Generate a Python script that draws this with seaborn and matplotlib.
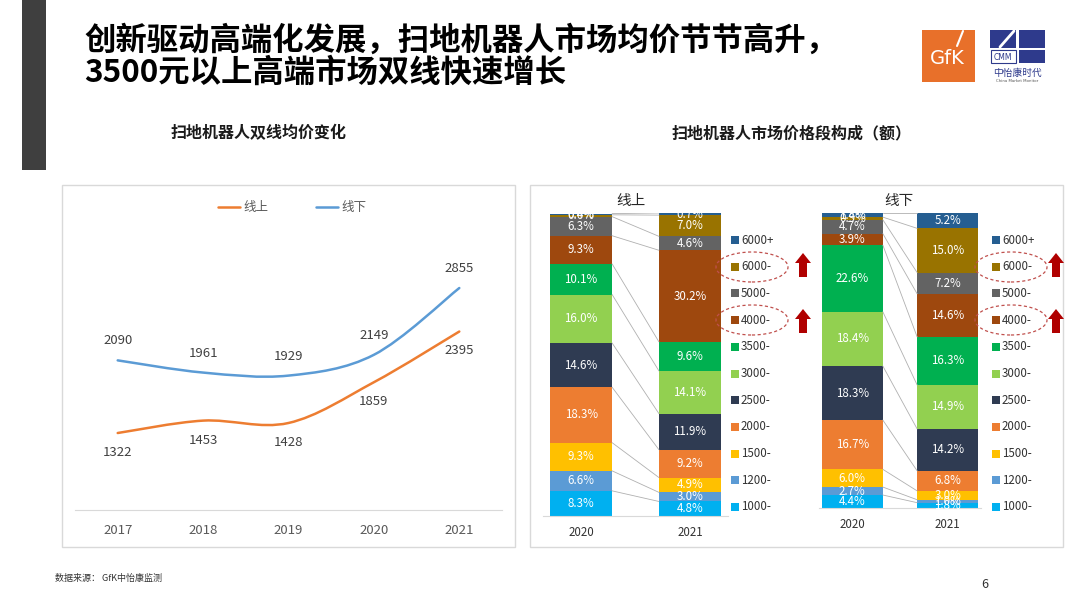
import numpy as np
import pandas as pd
import matplotlib
matplotlib.use("Agg")
import matplotlib.pyplot as plt
import seaborn as sns
from matplotlib.patches import Rectangle, Ellipse, PathPatch, Polygon
from matplotlib.path import Path
from matplotlib.lines import Line2D

# ---------------- data ----------------
years = [2017, 2018, 2019, 2020, 2021]
online_price = [1322, 1453, 1428, 1859, 2395]
offline_price = [2090, 1961, 1929, 2149, 2855]

segments = ['1000-', '1200-', '1500-', '2000-', '2500-', '3000-', '3500-',
            '4000-', '5000-', '6000-', '6000+']
bar_years = ['2020', '2021']
online_2020 = [8.3, 6.6, 9.3, 18.3, 14.6, 16.0, 10.1, 9.3, 6.3, 0.6, 0.4]
online_2021 = [4.8, 3.0, 4.9, 9.2, 11.9, 14.1, 9.6, 30.2, 4.6, 7.0, 0.7]
offline_2020 = [4.4, 2.7, 6.0, 16.7, 18.3, 18.4, 22.6, 3.9, 4.7, 0.9, 1.4]
offline_2021 = [1.8, 1.0, 3.0, 6.8, 14.2, 14.9, 16.3, 14.6, 7.2, 15.0, 5.2]

seg_colors = ['#00B0F0', '#5B9BD5', '#FFC000', '#ED7D31', '#2F3B52', '#92D050',
              '#00B050', '#9E480E', '#636363', '#997300', '#255E91']

# ---------------- setup ----------------
sns.set_theme(style="white")
plt.rcParams['font.family'] = ['Noto Sans CJK SC', 'DejaVu Sans']
plt.rcParams['axes.unicode_minus'] = False

W, H = 1080, 608
fig = plt.figure(figsize=(W / 100, H / 100), dpi=100)
fig.patch.set_facecolor('white')


def fbox(x0, y0, x1, y1):
    return [x0 / W, 1 - y1 / H, (x1 - x0) / W, (y1 - y0) / H]


def ft(x, y, s, **kw):
    return fig.text(x / W, 1 - y / H, s, **kw)


def frect(x0, y0, x1, y1, **kw):
    r = Rectangle((x0 / W, 1 - y1 / H), (x1 - x0) / W, (y1 - y0) / H,
                  transform=fig.transFigure, **kw)
    fig.add_artist(r)
    return r


# ---------------- header ----------------
frect(22, 0, 46, 170, color='#3F3F3F', lw=0)
ft(84, 41, '创新驱动高端化发展，扫地机器人市场均价节节高升，', fontsize=22.6,
   fontweight='bold', va='center', ha='left', color='black')
ft(84, 73, '3500元以上高端市场双线快速增长', fontsize=22.6,
   fontweight='bold', va='center', ha='left', color='black')

# GfK logo
frect(922, 30, 975, 82, color='#E8702A', lw=0)
ft(947, 59, 'GfK', fontsize=14, color='white', ha='center', va='center',
   family=['DejaVu Sans'])
fig.add_artist(Line2D([963 / W, 957 / W], [1 - 31 / H, 1 - 46 / H],
                      transform=fig.transFigure, color='white', lw=1.5))
# CMM logo
navy = '#2E3A8C'
frect(990, 30, 1016, 48, color=navy, lw=0)
frect(1019, 30, 1045, 48, color=navy, lw=0)
frect(1019, 50, 1045, 63, color=navy, lw=0)
frect(991, 50, 1016, 63, fill=False, ec=navy, lw=0.8)
fig.add_artist(Line2D([1000 / W, 1014 / W], [1 - 47 / H, 1 - 31 / H],
                      transform=fig.transFigure, color='white', lw=2))
ft(1003, 57, 'CMM', fontsize=5.5, color=navy, ha='center', va='center',
   family=['DejaVu Sans'])
ft(1017, 73, '中怡康时代', fontsize=7, color=navy, ha='center', va='center')
ft(1017, 81, 'China Market Monitor', fontsize=2.8, color='#555555',
   ha='center', va='center', family=['DejaVu Sans'])

# subtitles
ft(259, 133, '扫地机器人双线均价变化', fontsize=11.5, fontweight='bold',
   ha='center', va='center', color='#1a1a1a')
ft(792, 133, '扫地机器人市场价格段构成（额）', fontsize=11.5, fontweight='bold',
   ha='center', va='center', color='#1a1a1a')

# panel borders
frect(62, 185, 515, 547, fill=False, ec='#D9D9D9', lw=1)
frect(530, 185, 1063, 547, fill=False, ec='#D9D9D9', lw=1)

# footer
ft(55, 578, '数据来源： GfK中怡康监测', fontsize=6.5, color='#333333',
   ha='left', va='center')
ft(985, 584, '6', fontsize=9, color='#333333', ha='center', va='center')

# ---------------- line chart ----------------
axl = fig.add_axes(fbox(75, 215, 502, 510))
axl.set_xlim(2016.5, 2021.5)
axl.set_ylim(508, 3627)
for s in ['top', 'right', 'left']:
    axl.spines[s].set_visible(False)
axl.spines['bottom'].set_color('#D9D9D9')
axl.spines['bottom'].set_linewidth(0.8)
axl.set_yticks([])
axl.set_xticks(years)
axl.set_xticklabels([str(y) for y in years], fontsize=9.5, color='#595959')
axl.tick_params(axis='x', length=0, pad=10)
axl.set_facecolor('none')


def smooth_path(xs, ys):
    pts = list(zip(xs, ys))
    n = len(pts)
    verts = [pts[0]]
    codes = [Path.MOVETO]
    for i in range(n - 1):
        p0 = pts[i - 1] if i > 0 else pts[i]
        p1 = pts[i]
        p2 = pts[i + 1]
        p3 = pts[i + 2] if i + 2 < n else pts[i + 1]
        c1 = (p1[0] + (p2[0] - p0[0]) / 6, p1[1] + (p2[1] - p0[1]) / 6)
        c2 = (p2[0] - (p3[0] - p1[0]) / 6, p2[1] - (p3[1] - p1[1]) / 6)
        verts += [c1, c2, p2]
        codes += [Path.CURVE4] * 3
    return Path(verts, codes)


c_on, c_off = '#ED7D31', '#5B9BD5'
axl.add_patch(PathPatch(smooth_path(years, online_price), fill=False,
                        ec=c_on, lw=1.8, capstyle='round'))
axl.add_patch(PathPatch(smooth_path(years, offline_price), fill=False,
                        ec=c_off, lw=1.8, capstyle='round'))
for x, v in zip(years, online_price):
    axl.annotate(f'{v}', (x, v), xytext=(0, -14), textcoords='offset points',
                 ha='center', va='center', fontsize=9.5, color='#404040')
for x, v in zip(years, offline_price):
    axl.annotate(f'{v}', (x, v), xytext=(0, 14), textcoords='offset points',
                 ha='center', va='center', fontsize=9.5, color='#404040')

# legend of line chart
fig.add_artist(Line2D([218 / W, 240 / W], [1 - 207 / H] * 2,
                      transform=fig.transFigure, color=c_on, lw=1.8))
ft(243, 207, '线上', fontsize=9, color='#595959', ha='left', va='center')
fig.add_artist(Line2D([316 / W, 338 / W], [1 - 207 / H] * 2,
                      transform=fig.transFigure, color=c_off, lw=1.8))
ft(341, 207, '线下', fontsize=9, color='#595959', ha='left', va='center')


# ---------------- stacked bars ----------------
def draw_stack(ax, v2020, v2021, width):
    cum = np.zeros(2)
    for seg, c, a, b in zip(segments, seg_colors, v2020, v2021):
        vals = np.array([a, b], dtype=float)
        df = pd.DataFrame({'year': bar_years, 'share': vals})
        sns.barplot(data=df, x='year', y='share', bottom=cum, color=c,
                    width=width, saturation=1, errorbar=None, ax=ax,
                    linewidth=0)
        for i in range(2):
            ax.text(i, cum[i] + vals[i] / 2, f'{vals[i]:.1f}%', ha='center',
                    va='center', color='white', fontsize=8.3)
        cum = cum + vals
        ax.plot([width / 2, 1 - width / 2], cum, color='#B0B0B0', lw=0.6)
    ax.set_xlim(-0.35, 1.35)
    ax.set_ylim(0, 100)
    for s in ['top', 'right', 'left']:
        ax.spines[s].set_visible(False)
    ax.spines['bottom'].set_color('#D9D9D9')
    ax.spines['bottom'].set_linewidth(0.8)
    ax.set_yticks([])
    ax.set_xlabel('')
    ax.set_ylabel('')
    ax.tick_params(axis='x', length=0, pad=7, labelsize=8.3, labelcolor='#333333')
    ax.set_facecolor('none')


ax_on = fig.add_axes(fbox(543, 213, 728, 516))
draw_stack(ax_on, online_2020, online_2021, 0.57)
ax_off = fig.add_axes(fbox(819, 213, 981, 508))
draw_stack(ax_off, offline_2020, offline_2021, 0.64)

ft(631, 201, '线上', fontsize=10.5, color='#262626', ha='center', va='center')
ft(899, 201, '线下', fontsize=10.5, color='#262626', ha='center', va='center')

# legends of bar charts
leg_y = np.linspace(240, 507, len(segments))[::-1]  # 1000- at bottom
for lx in [731, 992]:
    for seg, c, y in zip(segments, seg_colors, leg_y):
        frect(lx, y - 4, lx + 8, y + 4, color=c, lw=0)
        ft(lx + 10, y, seg, fontsize=8.3, color='#333333', ha='left',
           va='center')

# highlight ellipses and arrows
for cx in [752, 1011]:
    for cy in [267, 320]:
        fig.add_artist(Ellipse((cx / W, 1 - cy / H), 72 / W, 30 / H,
                               transform=fig.transFigure, fill=False,
                               ec='#C0504D', lw=0.9, ls=(0, (2.5, 2))))
for ax_x in [803, 1056]:
    for cy in [265, 321]:
        top, bot = cy - 12, cy + 12
        pts = [(ax_x - 4, bot), (ax_x + 4, bot), (ax_x + 4, top + 10),
               (ax_x + 8, top + 10), (ax_x, top), (ax_x - 8, top + 10),
               (ax_x - 4, top + 10)]
        fig.add_artist(Polygon([(px / W, 1 - py / H) for px, py in pts],
                               closed=True, transform=fig.transFigure,
                               color='#B00000', lw=0))

fig.savefig('out.png', dpi=100, facecolor='white')
